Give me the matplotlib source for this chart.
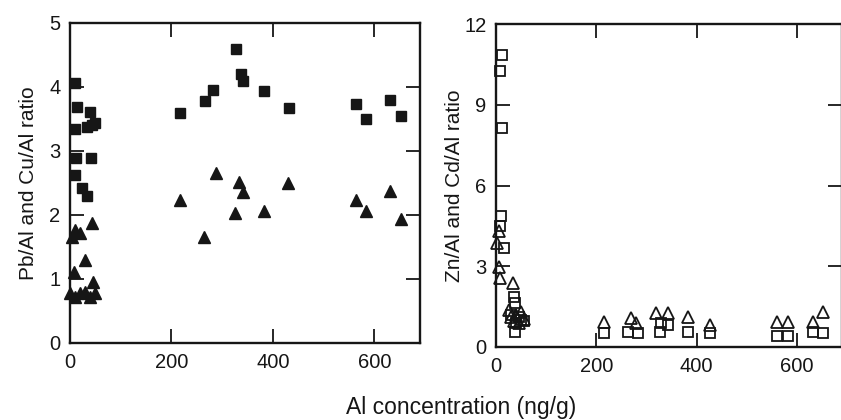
import numpy as np
import matplotlib.pyplot as plt

plt.rcParams['font.family'] = ['Liberation Sans', 'DejaVu Sans']

# Left panel: Pb/Al and Cu/Al (filled squares / filled triangles)
sq_left_x = [10, 14, 10, 39, 33, 44, 49, 11, 41, 10, 23, 33,
             216, 267, 282, 327, 338, 341, 383, 432, 564, 583, 631, 653]
sq_left_y = [4.06, 3.69, 3.35, 3.61, 3.38, 3.40, 3.43, 2.89, 2.89, 2.63, 2.42, 2.29,
             3.60, 3.78, 3.95, 4.59, 4.20, 4.09, 3.94, 3.67, 3.74, 3.50, 3.80, 3.55]
tri_left_x = [43, 10, 20, 3, 30, 7, 46, 0, 20, 30, 39, 49, 10,
              216, 265, 287, 325, 333, 341, 382, 430, 563, 583, 631, 653]
tri_left_y = [1.87, 1.77, 1.72, 1.66, 1.30, 1.11, 0.96, 0.78, 0.78, 0.80, 0.72, 0.78, 0.72,
              2.23, 1.66, 2.65, 2.03, 2.52, 2.36, 2.07, 2.50, 2.23, 2.06, 2.38, 1.93]

# Right panel: Zn/Al and Cd/Al (open squares / open triangles)
sq_right_x = [12, 8, 12, 9, 8, 15, 35, 38, 30, 45, 40, 50, 38, 55,
              215, 264, 284, 327, 330, 343, 383, 426, 560, 582, 632, 652]
sq_right_y = [10.86, 10.26, 8.13, 4.87, 4.50, 3.67, 1.87, 1.62, 1.20, 1.10, 0.90, 1.00, 0.57, 0.95,
              0.52, 0.57, 0.51, 0.57, 0.88, 0.80, 0.57, 0.52, 0.41, 0.41, 0.57, 0.51]
tri_right_x = [1, 6, 5, 8, 34, 25, 30, 40, 50, 35, 45, 55,
               215, 270, 280, 320, 343, 383, 426, 560, 582, 632, 652]
tri_right_y = [3.85, 4.30, 2.98, 2.55, 2.37, 1.37, 1.10, 1.20, 1.30, 0.95, 0.90, 1.05,
               0.94, 1.07, 0.88, 1.25, 1.25, 1.13, 0.82, 0.94, 0.94, 0.94, 1.31]

ink = '#161616'

fig = plt.figure(figsize=(8.41, 4.2), dpi=100)
ax1 = fig.add_axes([70/841, 77/420, 350/841, 320/420])
ax2 = fig.add_axes([496/841, 73/420, 346/841, 323/420])

ax1.plot(sq_left_x, sq_left_y, 's', ms=7, color=ink, mec=ink, clip_on=False)
ax1.plot(tri_left_x, tri_left_y, '^', ms=8.5, color=ink, mec=ink, clip_on=False)
ax1.set_xlim(0, 690)
ax1.set_ylim(0, 5)
ax1.set_yticks([0, 1, 2, 3, 4, 5])
ax1.set_ylabel('Pb/Al and Cu/Al ratio', fontsize=15, color=ink)
ax1.yaxis.set_label_coords(-0.092, 0.5)

ax2.plot(sq_right_x, sq_right_y, 's', ms=6.5, mfc='none', mec=ink, mew=1.3, clip_on=False)
ax2.plot(tri_right_x, tri_right_y, '^', ms=8, mfc='none', mec=ink, mew=1.3, clip_on=False)
ax2.set_xlim(0, 690)
ax2.set_ylim(0, 12)
ax2.set_yticks([0, 3, 6, 9, 12])
ax2.set_ylabel('Zn/Al and Cd/Al ratio', fontsize=15, color=ink)
ax2.yaxis.set_label_coords(-0.093, 0.5)

for ax in (ax1, ax2):
    ax.set_xticks([0, 200, 400, 600])
    ax.tick_params(direction='in', length=10, width=1.3, pad=7, labelsize=14.5,
                   colors=ink, top=True, right=True)
    for s in ax.spines.values():
        s.set_linewidth(1.7)
        s.set_color(ink)

fig.text(461/841, 0.03, 'Al concentration (ng/g)', ha='center', va='center',
         fontsize=16.5, color=ink)

fig.savefig('out.png', dpi=100)
